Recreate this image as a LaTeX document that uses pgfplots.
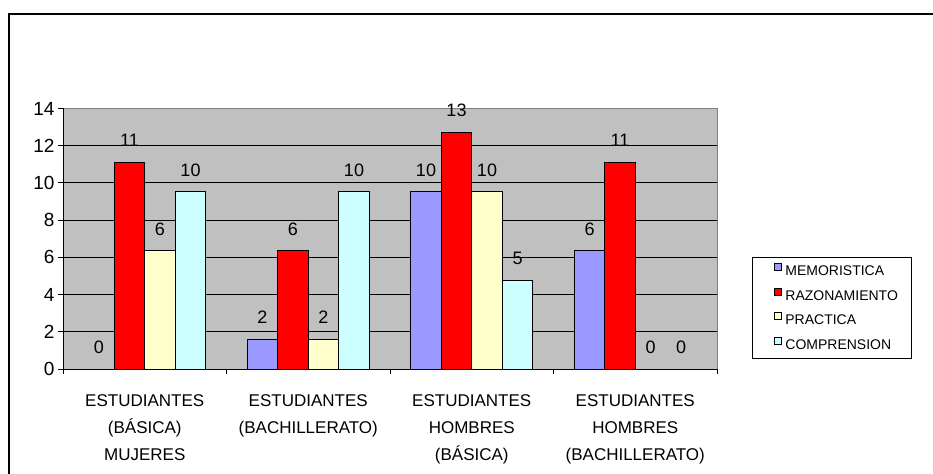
\documentclass[border=0pt]{standalone}
\usepackage{fontspec}
\setmainfont{Liberation Sans}
\usepackage{pgfplots}
\pgfplotsset{compat=1.18}
\definecolor{memo}{HTML}{9999FF}
\definecolor{razo}{HTML}{FF0000}
\definecolor{prac}{HTML}{FFFFCC}
\definecolor{comp}{HTML}{CCFFFF}
\definecolor{plotbg}{HTML}{C0C0C0}
\definecolor{plotedge}{HTML}{808080}
\begin{document}
\begin{tikzpicture}
\useasboundingbox (0,0) rectangle (933bp,474bp);
% outer chart frame (cut off at right and bottom)
\draw[line width=1.5bp] (9bp,0bp) -- (9bp,460bp) -- (933bp,460bp);
\begin{axis}[
  at={(63bp,105bp)}, anchor=south west,
  scale only axis, width=654bp, height=260.5bp,
  xmin=-0.5, xmax=3.5, ymin=0, ymax=14,
  ybar=0pt, bar width=30.5bp,
  axis x line*=bottom, axis y line*=left,
  axis line style={-, black, line width=1bp},
  axis background/.style={fill=plotbg, draw=plotedge, line width=1bp},
  tick align=outside,
  tick style={black, line width=1bp},
  major tick length=5bp, minor tick length=5bp,
  xtick={0,1,2,3},
  major x tick style={draw=none},
  minor xtick={-0.5,0.5,1.5,2.5,3.5},
  xticklabels={{ESTUDIANTES\\(BÁSICA)\\MUJERES},
               {ESTUDIANTES\\(BACHILLERATO)},
               {ESTUDIANTES\\HOMBRES\\(BÁSICA)},
               {ESTUDIANTES\\HOMBRES\\(BACHILLERATO)}},
  xticklabel style={align=center, font=\fontsize{17bp}{27bp}\selectfont, anchor=north, yshift=-17bp},
  ytick={0,2,...,14},
  yticklabel style={font=\fontsize{19bp}{19bp}\selectfont},
  extra y ticks={2,4,...,12},
  extra y tick labels={},
  extra y tick style={grid=major},
  major grid style={black, line width=1bp},
  /pgf/number format/assume math mode=true,
  nodes near coords,
  every node near coord/.append style={anchor=center, yshift=22bp,
    font=\fontsize{18bp}{18bp}\selectfont,
    /pgf/number format/fixed, /pgf/number format/precision=0},
  legend cell align=left,
  legend image code/.code={\path (0bp,0bp); \draw[#1, line width=0.8bp] (7bp,1.5bp) rectangle (14bp,8.5bp);},
  legend style={at={(1.0535,0.0384)}, anchor=south west, draw=black, line width=1bp,
    font=\fontsize{14bp}{14bp}\selectfont,
    nodes={inner sep=0bp, text height=10bp, text depth=3bp},
    row sep=9.2bp, column sep=4bp, inner xsep=14bp, inner ysep=6bp},
]
\addplot[fill=memo, draw=black, line width=1bp] coordinates {(0,0) (1,1.59) (2,9.52) (3,6.35)};
\addplot[fill=razo, draw=black, line width=1bp] coordinates {(0,11.11) (1,6.35) (2,12.70) (3,11.11)};
\addplot[fill=prac, draw=black, line width=1bp] coordinates {(0,6.35) (1,1.59) (2,9.52) (3,0)};
\addplot[fill=comp, draw=black, line width=1bp] coordinates {(0,9.52) (1,9.52) (2,4.76) (3,0)};
\legend{MEMORISTICA, RAZONAMIENTO, PRACTICA, COMPRENSION}
\end{axis}
\end{tikzpicture}
\end{document}
